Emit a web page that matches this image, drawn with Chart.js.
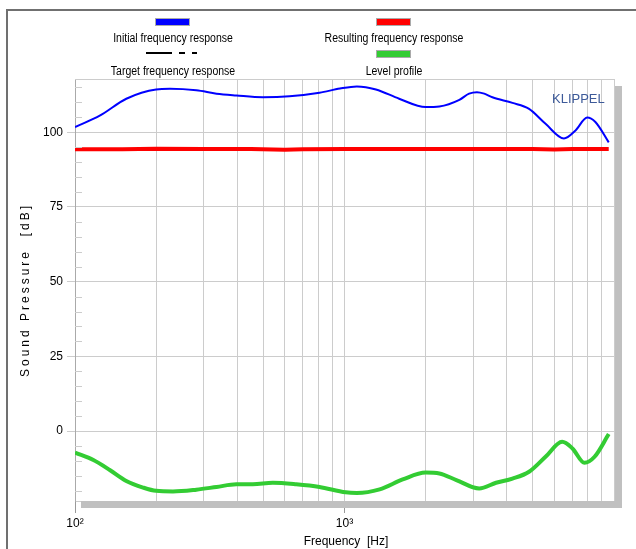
<!DOCTYPE html>
<html>
<head>
<meta charset="utf-8">
<script src="https://cdn.jsdelivr.net/npm/chart.js@4"></script>
<style>
  body { margin: 0; background: #fff; }
  canvas { display: block; }
</style>
</head>
<body>
<canvas id="chart" width="636" height="549"></canvas>
<script>
// Values (frequency in Hz, level in dB)
const initialFreq  = [100, 124, 155, 200, 225, 282, 335, 397, 498, 625, 808, 962, 1111, 1308, 1595, 2000, 2250, 2668, 2900, 3100, 3300, 3538, 4200, 4840, 5573, 6520, 7200, 7950, 8530, 9560];
const initialLevel = [101.7, 105.6, 111.2, 114.3, 114.5, 114.0, 112.9, 112.3, 111.7, 112.0, 113.2, 114.6, 115.3, 114.3, 111.2, 108.4, 108.6, 110.8, 112.9, 113.4, 112.9, 111.7, 109.8, 107.8, 102.8, 97.9, 100.6, 104.9, 103.4, 96.6];

const resultFreq  = [100, 150, 200, 300, 450, 600, 700, 1000, 2000, 3000, 5000, 6000, 7000, 9560];
const resultLevel = [94.3, 94.3, 94.5, 94.4, 94.4, 94.1, 94.3, 94.4, 94.4, 94.4, 94.4, 94.2, 94.4, 94.4];

const targetFreq  = [100, 9560];
const targetLevel = [93.9, 93.9];

const profileFreq  = [100, 117, 135, 155, 179, 200, 231, 282, 335, 397, 457, 542, 662, 808, 1010, 1111, 1350, 1644, 2000, 2250, 2600, 3162, 3650, 4200, 4840, 5573, 6420, 7010, 7770, 8470, 9560];
const profileLevel = [-7.2, -9.7, -13.1, -16.7, -18.9, -20.0, -20.2, -19.6, -18.7, -17.8, -17.8, -17.3, -17.8, -18.7, -20.5, -20.7, -19.5, -16.2, -13.9, -14.2, -16.4, -19.2, -17.3, -15.9, -13.6, -8.6, -3.6, -5.8, -10.6, -8.6, -1.0];

const xTicks = [100, 200, 300, 400, 500, 600, 700, 800, 900, 1000, 2000, 3000, 4000, 5000, 6000, 7000, 8000, 9000, 10000];
const xTickLabels = { 100: '10\u00b2', 1000: '10\u00b3' };
const yTicks = [-20, -15, -10, -5, 0, 5, 10, 15, 20, 25, 30, 35, 40, 45, 50, 55, 60, 65, 70, 75, 80, 85, 90, 95, 100, 105, 110, 115];

const legendItems = [
  { label: 'Initial frequency response', color: '#0000ff', col: 0, row: 0 },
  { label: 'Resulting frequency response', color: '#ff0000', col: 1, row: 0 },
  { label: 'Target frequency response', color: null, col: 0, row: 1 },
  { label: 'Level profile', color: '#33cc33', col: 1, row: 1 }
];

function toPoints(xs, ys) {
  return xs.map((x, i) => ({ x: x, y: ys[i] }));
}

const FONT = "'Liberation Sans', Arial, sans-serif";
const GRID = '#cccccc';

// Frame, shadow, legend and titles drawn around the plot
const decorations = {
  id: 'decorations',
  afterDraw(chart) {
    const ctx = chart.ctx;
    const a = chart.chartArea;
    const y = chart.scales.y;

    ctx.save();

    // minor ticks on the inside of the left edge
    ctx.strokeStyle = GRID;
    ctx.lineWidth = 1;
    yTicks.forEach(v => {
      if (v % 25 === 0) return;
      const py = Math.round(y.getPixelForValue(v)) + 0.5;
      ctx.beginPath();
      ctx.moveTo(a.left, py);
      ctx.lineTo(a.left + 7, py);
      ctx.stroke();
    });

    // top edge of the plot
    ctx.beginPath();
    ctx.moveTo(a.left, a.top + 0.5);
    ctx.lineTo(a.right, a.top + 0.5);
    ctx.stroke();

    // drop shadow
    ctx.fillStyle = '#c0c0c0';
    ctx.fillRect(a.right + 1, a.top + 7, 7, a.bottom - a.top);
    ctx.fillRect(a.left + 6, a.bottom, a.right - a.left + 2, 7);

    // outer frame
    ctx.strokeStyle = '#707070';
    ctx.lineWidth = 2;
    ctx.strokeRect(7, 10, 700, 600);

    // legend (narrow lettering, squeezed horizontally)
    const colX = [173, 394];
    ctx.font = '12px ' + FONT;
    ctx.textAlign = 'center';
    ctx.textBaseline = 'middle';
    legendItems.forEach(item => {
      const cx = colX[item.col];
      const sy = item.row === 0 ? 18 : 50;
      const ty = item.row === 0 ? 39 : 72;
      if (item.color) {
        ctx.fillStyle = item.color;
        ctx.fillRect(cx - 18, sy, 35, 8);
        ctx.strokeStyle = '#aaaaaa';
        ctx.lineWidth = 1;
        ctx.strokeRect(cx - 18 + 0.5, sy + 0.5, 34, 7);
      } else {
        ctx.strokeStyle = '#000';
        ctx.lineWidth = 2;
        ctx.beginPath();
        ctx.moveTo(cx - 27, 53); ctx.lineTo(cx - 1, 53);
        ctx.moveTo(cx + 6, 53); ctx.lineTo(cx + 12, 53);
        ctx.moveTo(cx + 19, 53); ctx.lineTo(cx + 24, 53);
        ctx.stroke();
      }
      ctx.save();
      ctx.translate(cx, ty);
      ctx.scale(0.875, 1);
      ctx.fillStyle = '#000';
      ctx.fillText(item.label, 0, 0);
      ctx.restore();
    });

    // brand label
    ctx.font = '13px ' + FONT;
    ctx.fillStyle = '#3d5a99';
    ctx.textAlign = 'left';
    ctx.fillText('KLIPPEL', 552, 99);

    // axis titles
    ctx.fillStyle = '#000';
    ctx.font = '12px ' + FONT;
    ctx.textAlign = 'center';
    ctx.fillText('Frequency  [Hz]', 346, 542);

    ctx.translate(26, (a.top + a.bottom) / 2);
    ctx.rotate(-Math.PI / 2);
    ctx.letterSpacing = '3px';
    ctx.fillText('Sound Pressure  [dB]', 0, 0);

    ctx.restore();
  }
};

const ctx = document.getElementById('chart').getContext('2d');
const chart = new Chart(ctx, {
  type: 'scatter',
  data: {
    datasets: [
      {
        label: 'Resulting frequency response',
        data: toPoints(resultFreq, resultLevel),
        showLine: true, borderColor: '#ff0000', borderWidth: 4, tension: 0
      },
      {
        label: 'Initial frequency response',
        data: toPoints(initialFreq, initialLevel),
        showLine: true, borderColor: '#0000ff', borderWidth: 2, cubicInterpolationMode: 'monotone'
      },
      {
        label: 'Target frequency response',
        data: toPoints(targetFreq, targetLevel),
        showLine: true, borderColor: '#333333', borderWidth: 1, borderDash: [1, 1]
      },
      {
        label: 'Level profile',
        data: toPoints(profileFreq, profileLevel),
        showLine: true, borderColor: '#33cc33', borderWidth: 4, cubicInterpolationMode: 'monotone'
      }
    ]
  },
  options: {
    responsive: false,
    animation: false,
    layout: { padding: { top: 79, right: 22, left: 0, bottom: 0 } },
    elements: { point: { radius: 0 } },
    plugins: {
      legend: { display: false },
      tooltip: { enabled: false }
    },
    scales: {
      x: {
        type: 'logarithmic',
        min: 100,
        max: 10000,
        afterBuildTicks: scale => { scale.ticks = xTicks.map(v => ({ value: v })); },
        afterFit: scale => { scale.height = 48; },
        ticks: {
          autoSkip: false,
          maxRotation: 0,
          padding: 3,
          color: '#000',
          font: { family: FONT, size: 12 },
          callback: value => xTickLabels[value] || ''
        },
        grid: {
          color: GRID,
          tickLength: 12,
          tickColor: c => (c.tick && xTickLabels[c.tick.value]) ? '#999999' : 'rgba(0,0,0,0)'
        },
        border: { color: GRID }
      },
      y: {
        min: -23.4,
        max: 117.8,
        afterBuildTicks: scale => { scale.ticks = yTicks.map(v => ({ value: v })); },
        afterFit: scale => { scale.width = 75; },
        ticks: {
          autoSkip: false,
          padding: 4,
          color: '#000',
          font: { family: FONT, size: 12 },
          callback: value => (value % 25 === 0 ? value : '')
        },
        grid: {
          color: c => (c.tick && c.tick.value % 25 === 0) ? GRID : 'rgba(0,0,0,0)',
          tickLength: 8,
          tickColor: c => (c.tick && c.tick.value % 25 === 0) ? GRID : 'rgba(0,0,0,0)'
        },
        border: { color: '#aaaaaa' }
      }
    }
  },
  plugins: [decorations]
});
</script>
</body>
</html>
